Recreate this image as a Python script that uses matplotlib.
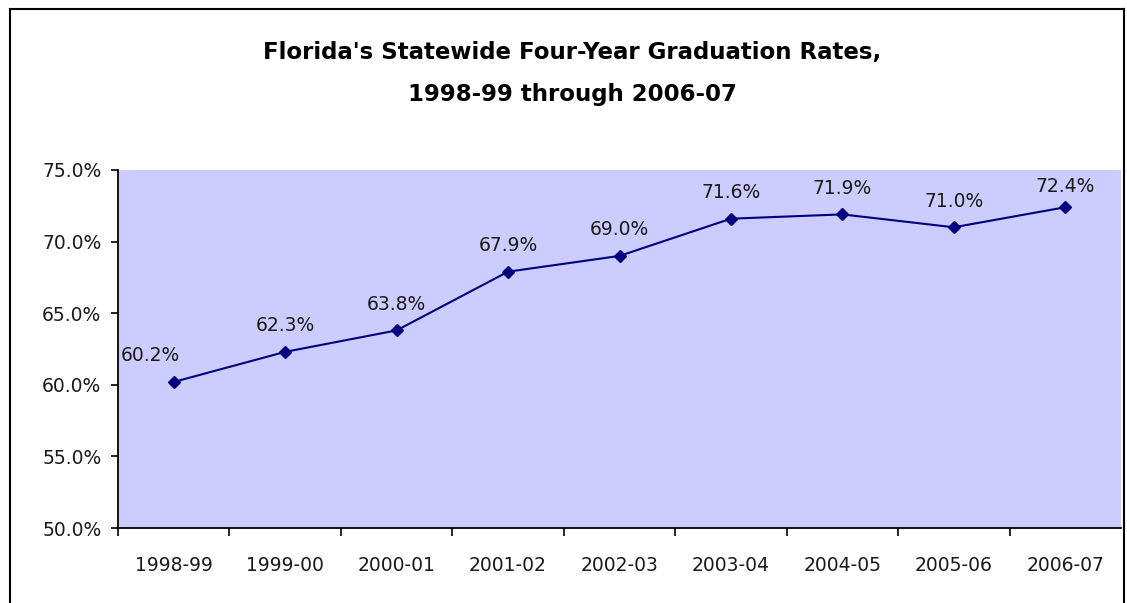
import matplotlib
matplotlib.use("Agg")
import matplotlib.pyplot as plt
from matplotlib.lines import Line2D
from matplotlib.ticker import FixedLocator, NullFormatter

categories = ["1998-99", "1999-00", "2000-01", "2001-02", "2002-03",
              "2003-04", "2004-05", "2005-06", "2006-07"]
rates = [60.2, 62.3, 63.8, 67.9, 69.0, 71.6, 71.9, 71.0, 72.4]
y_ticks = [50.0, 55.0, 60.0, 65.0, 70.0, 75.0]

plt.rcParams['font.family'] = ['DejaVu Sans']

fig = plt.figure(figsize=(11.27, 6.03), dpi=100)
ax = fig.add_axes([118/1127, 1-528/603, (1121-118)/1127, (528-170)/603])
ax.set_facecolor("#CCCCFF")

x = list(range(len(categories)))
ax.plot(x, rates, color="#000080", lw=1.5, marker="D", markersize=6,
        markerfacecolor="#000080", markeredgecolor="#000080")

offsets = [(-17, 12), (0, 12), (0, 12), (0, 12), (0, 12), (0, 12), (0, 12), (0, 12), (0, 8)]
for xi, v, off in zip(x, rates, offsets):
    ax.annotate(f"{v:.1f}%", (xi, v), xytext=off, textcoords="offset points",
                ha="center", va="bottom", fontsize=13.5, color="#1a1a1a")

ax.set_xlim(-0.5, len(categories) - 0.5)
ax.set_ylim(50, 75)
ax.set_yticks(y_ticks)
ax.set_yticklabels([f"{t:.1f}%" for t in y_ticks], fontsize=13.5, color="#1a1a1a")
ax.set_xticks(x)
ax.set_xticklabels(categories, fontsize=13.5, color="#1a1a1a")
ax.tick_params(axis="x", which="major", length=0, pad=20)
ax.xaxis.set_minor_locator(FixedLocator([i + 0.5 for i in range(-1, len(categories) - 1)]))
ax.xaxis.set_minor_formatter(NullFormatter())
ax.tick_params(axis="x", which="minor", length=6, width=1.2, direction="out")
ax.tick_params(axis="y", length=5, width=1.2, direction="out", pad=7)

for s in ["top", "right"]:
    ax.spines[s].set_visible(False)
for s in ["left", "bottom"]:
    ax.spines[s].set_linewidth(1.3)
    ax.spines[s].set_color("#000000")

fig.text(572/1127, 1-52/603, "Florida's Statewide Four-Year Graduation Rates,",
         ha="center", va="center", fontsize=16.5, fontweight="bold")
fig.text(572/1127, 1-94/603, "1998-99 through 2006-07",
         ha="center", va="center", fontsize=16.5, fontweight="bold")

# chart-area border
l, r, t = 10/1127, 1124/1127, 1-9/603
fig.add_artist(Line2D([l, l], [-0.1, t], transform=fig.transFigure, color="black", lw=1.5))
fig.add_artist(Line2D([l, r], [t, t], transform=fig.transFigure, color="black", lw=1.5))
fig.add_artist(Line2D([r, r], [-0.1, t], transform=fig.transFigure, color="black", lw=1.5))

fig.savefig("out.png", dpi=100)
